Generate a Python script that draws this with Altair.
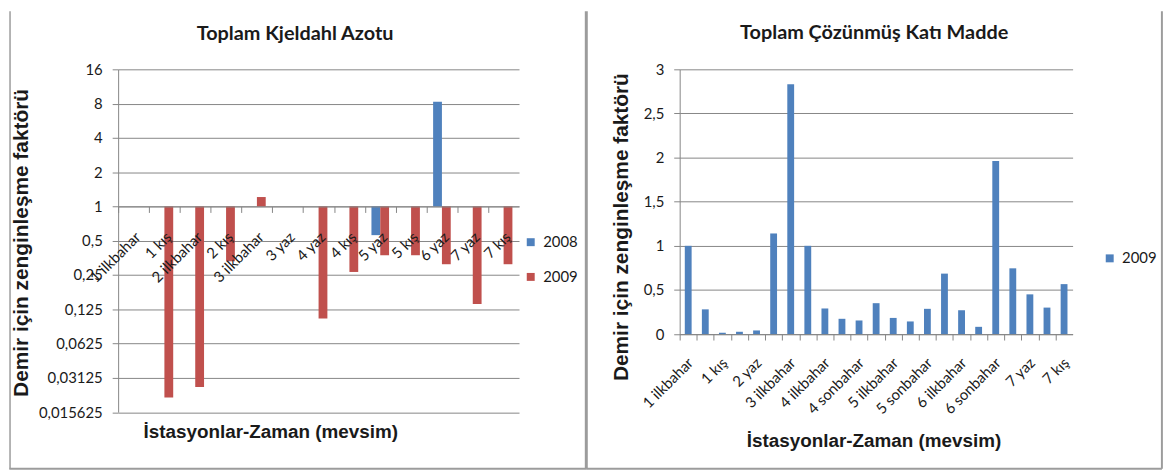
import altair as alt
import pandas as pd

# ---------------- data ----------------
TITLE_L = "Toplam Kjeldahl Azotu"
TITLE_R = "Toplam Çözünmüş Katı Madde"
Y_TITLE = "Demir için zenginleşme faktörü"
X_TITLE = "İstasyonlar-Zaman (mevsim)"

cats_L = ["1 ilkbahar", "1 kış", "2 ilkbahar", "2 kış", "3 ilkbahar", "3 yaz",
          "4 yaz", "4 kış", "5 yaz", "5 kış", "6 yaz", "7 yaz", "7 kış"]
years_L = ["2008", "2009"]
vals_2008 = [None, None, None, None, None, None, None, None, 0.56, None, 8.3, None, None]
vals_2009 = [None, 0.021, 0.026, 0.33, 1.21, None, 0.104, 0.266, 0.373, 0.373, 0.311, 0.139, 0.311]
yticks_L = [0.015625, 0.03125, 0.0625, 0.125, 0.25, 0.5, 1, 2, 4, 8, 16]

cats_R = ["1 ilkbahar", "1 sonbahar", "1 kış", "2 ilkbahar", "2 yaz", "2 kış",
          "3 ilkbahar", "3 yaz", "4 ilkbahar", "4 yaz", "4 sonbahar", "4 kış",
          "5 ilkbahar", "5 yaz", "5 sonbahar", "5 kış", "6 ilkbahar", "6 yaz",
          "6 sonbahar", "6 kış", "7 yaz", "7 sonbahar", "7 kış"]
series_R = ["2009"]
vals_R = [1.0, 0.28, 0.015, 0.026, 0.041, 1.14, 2.83, 1.0, 0.29, 0.173, 0.154, 0.35,
          0.183, 0.143, 0.286, 0.685, 0.27, 0.082, 1.96, 0.745, 0.45, 0.30, 0.566]
yticks_R = [0, 0.5, 1, 1.5, 2, 2.5, 3]

# ---------------- tables ----------------
rows = []
for c, a, b in zip(cats_L, vals_2008, vals_2009):
    if a is not None:
        rows.append({"kat": c, "yil": years_L[0], "deger": a})
    if b is not None:
        rows.append({"kat": c, "yil": years_L[1], "deger": b})
dfL = pd.DataFrame(rows)
dfR = pd.DataFrame({"kat": cats_R, "deger": vals_R, "seri": series_R * len(cats_R)})
shown_R = cats_R[::2]

# ---------------- styles ----------------
BLUE = "#4F81BD"
RED = "#C0504D"
GRID = "#868686"
AXC = "#868686"
TXT = "#1a1a1a"
BORDER = "#9c9c9c"
LBL_FONT = "Lato"
TTL_FONT = "Liberation Sans"
LBL_SIZE = 15

WL, HL = 404, 345.5
WR, HR = 396, 266.8
stepL = WL / len(cats_L)
stepR = WR / len(cats_R)
comma = "replace(toString(datum.value), '.', ',')"

one = pd.DataFrame({"t": [0]})

def frame_rule(x, x2=None, y=None, y2=None, w=1.5):
    enc = {"x": alt.value(x), "y": alt.value(y)}
    if x2 is not None:
        enc["x2"] = alt.value(x2)
    if y2 is not None:
        enc["y2"] = alt.value(y2)
    return alt.Chart(one).mark_rule(color=BORDER, strokeWidth=w).encode(**enc)

# ---------------- left chart ----------------
barsL = alt.Chart(dfL).mark_bar().encode(
    x=alt.X("kat:N", sort=cats_L,
            scale=alt.Scale(domain=cats_L, paddingInner=0.4286, paddingOuter=0.2143),
            axis=alt.Axis(orient="bottom", offset=-(HL * 0.6), labelAngle=315,
                          labelAlign="right", labelBaseline="middle", zindex=1,
                          labelPadding=22, tickSize=6, tickOffset=-stepL / 2,
                          labelOffset=stepL / 2 + 4, grid=False,
                          domainColor=AXC, tickColor=AXC, labelOverlap=False,
                          labelFont=LBL_FONT, labelFontSize=LBL_SIZE, labelColor=TXT,
                          title=X_TITLE, titleX=153.3, titleY=227.3,
                          titleAlign="center", titleBaseline="middle",
                          titleFont=TTL_FONT, titleFontSize=19, titleFontWeight="bold",
                          titleColor=TXT)),
    xOffset=alt.XOffset("yil:N", scale=alt.Scale(domain=years_L)),
    y=alt.Y("deger:Q",
            scale=alt.Scale(type="log", base=2, domain=[0.015625, 16], nice=False),
            axis=alt.Axis(values=yticks_L, labelExpr=comma, grid=True, gridColor=GRID,
                          domainColor=AXC, tickColor=AXC, tickSize=6, labelPadding=10,
                          labelFont=LBL_FONT, labelFontSize=LBL_SIZE, labelColor=TXT,
                          title=Y_TITLE, titleX=-97, titleY=174.5, titleAngle=270,
                          titleAlign="center", titleBaseline="middle",
                          titleFont=TTL_FONT, titleFontSize=21, titleFontWeight="bold",
                          titleColor=TXT)),
    y2=alt.datum(1),
    color=alt.Color("yil:N", scale=alt.Scale(domain=years_L, range=[BLUE, RED]),
                    legend=alt.Legend(orient="none", legendX=408.3, legendY=166.7,
                                      title=None, symbolType="square", symbolSize=64,
                                      symbolStrokeWidth=0, labelFont=LBL_FONT,
                                      labelFontSize=LBL_SIZE, labelColor=TXT, labelOffset=5,
                                      rowPadding=19, padding=0)),
)

titleL = alt.Chart(pd.DataFrame({"t": [TITLE_L]})).mark_text(
    font=LBL_FONT, fontSize=20, fontWeight="bold", color=TXT, align="center",
    baseline="middle").encode(x=alt.value(178.3), y=alt.value(-35.5), text="t:N")

left = alt.layer(
    barsL, titleL,
    frame_rule(-108.95, y=-58.5, y2=402.5),
    frame_rule(-109.7, x2=472.3, y=402.5, w=2),
    frame_rule(471.8, y=-58.5, y2=402.5, w=3),
).properties(width=WL, height=HL)

# ---------------- right chart ----------------
barsR = alt.Chart(dfR).mark_bar().encode(
    x=alt.X("kat:N", sort=cats_R,
            scale=alt.Scale(domain=cats_R, paddingInner=0.6, paddingOuter=0.3),
            axis=alt.Axis(labelAngle=315, labelAlign="right", labelBaseline="middle",
                          labelPadding=20, tickSize=6, tickOffset=-stepR / 2,
                          labelOffset=stepR / 2 + 2, grid=False,
                          labelExpr="indexof(" + str(shown_R) + ", datum.value) >= 0 ? datum.value : ''",
                          domainColor=AXC, tickColor=AXC, labelOverlap=False,
                          labelFont=LBL_FONT, labelFontSize=LBL_SIZE, labelColor=TXT,
                          title=X_TITLE, titleX=195.3, titleY=107.4,
                          titleAlign="center", titleBaseline="middle",
                          titleFont=TTL_FONT, titleFontSize=19, titleFontWeight="bold",
                          titleColor=TXT)),
    y=alt.Y("deger:Q", scale=alt.Scale(domain=[0, 3], nice=False),
            axis=alt.Axis(values=yticks_R, labelExpr=comma, grid=True, gridColor=GRID,
                          domainColor=AXC, tickColor=AXC, tickSize=6, labelPadding=10,
                          labelFont=LBL_FONT, labelFontSize=LBL_SIZE, labelColor=TXT,
                          title=Y_TITLE, titleX=-58.7, titleY=158.5, titleAngle=270,
                          titleAlign="center", titleBaseline="middle",
                          titleFont=TTL_FONT, titleFontSize=21, titleFontWeight="bold",
                          titleColor=TXT)),
    color=alt.Color("seri:N", scale=alt.Scale(domain=series_R, range=[BLUE]),
                    legend=alt.Legend(orient="none", legendX=425.9, legendY=183,
                                      title=None, symbolType="square", symbolSize=64,
                                      symbolStrokeWidth=0, labelFont=LBL_FONT,
                                      labelFontSize=LBL_SIZE, labelColor=TXT, labelOffset=5,
                                      padding=0)),
)

titleR = alt.Chart(pd.DataFrame({"t": [TITLE_R]})).mark_text(
    font=LBL_FONT, fontSize=20, fontWeight="bold", color=TXT, align="center",
    baseline="middle").encode(x=alt.value(196), y=alt.value(-36.5), text="t:N")

right = alt.layer(
    barsR, titleR,
    frame_rule(-93.7, x2=486, y=402.5, w=2),
    frame_rule(486, y=-58.5, y2=402.5, w=2),
).properties(width=WR, height=HR)

chart = alt.hconcat(left, right, spacing=161.9, bounds="flush").resolve_scale(
    color="independent"
).properties(padding=0, background="white").configure_view(stroke=None)

chart.save("out.html", embed_options={"renderer": "svg", "actions": False})
